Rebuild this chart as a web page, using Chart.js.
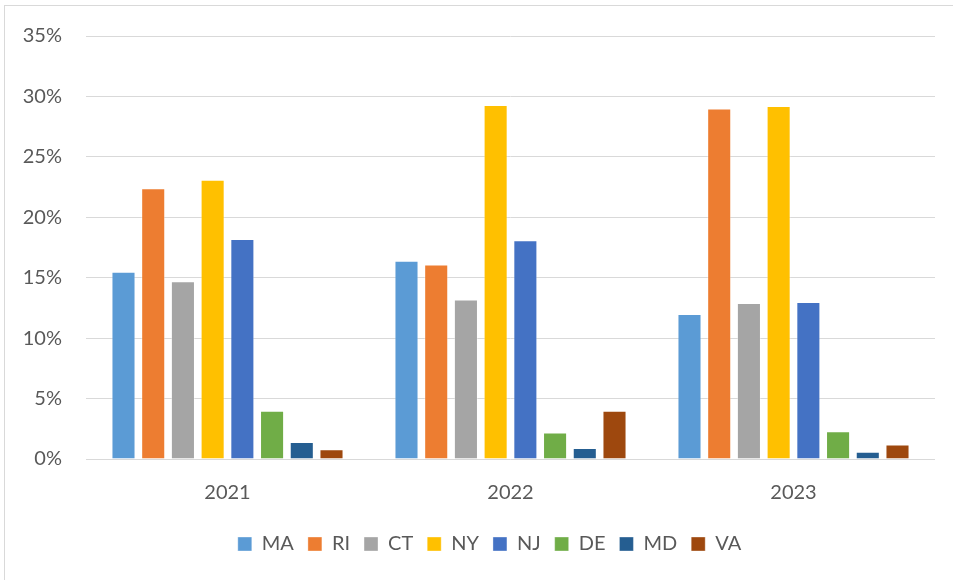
<!DOCTYPE html>
<html>
<head>
<meta charset="utf-8">
<script src="https://cdn.jsdelivr.net/npm/chart.js@4"></script>
<style>
  html, body { margin: 0; padding: 0; background: #fff; }
  #wrap { position: relative; width: 953px; height: 580px; overflow: hidden; }
  #frame { position: absolute; left: 4px; top: 5px; width: 1000px; height: 600px;
           border-left: 1px solid #d9d9d9; border-top: 1px solid #d9d9d9; }
  canvas { position: absolute; left: 0; top: 0; }
</style>
</head>
<body>
<div id="wrap">
  <div id="frame"></div>
  <canvas id="chart" width="953" height="580"></canvas>
</div>
<script>
const years = ['2021', '2022', '2023'];
const states = ['MA', 'RI', 'CT', 'NY', 'NJ', 'DE', 'MD', 'VA'];
const colors = ['#5B9BD5', '#ED7D31', '#A5A5A5', '#FFC000', '#4472C4', '#70AD47', '#255E91', '#9E480E'];

// share (%) per state, one entry per year
const MA = [15.5, 16.4, 12.0];
const RI = [22.4, 16.1, 29.0];
const CT = [14.7, 13.2, 12.9];
const NY = [23.1, 29.3, 29.2];
const NJ = [18.2, 18.1, 13.0];
const DE = [4.0, 2.2, 2.3];
const MD = [1.4, 0.9, 0.6];
const VA = [0.8, 4.0, 1.2];
const values = [MA, RI, CT, NY, NJ, DE, MD, VA];

const yTicks = [0, 5, 10, 15, 20, 25, 30, 35];

const font = { family: 'Lato, "Open Sans", sans-serif', size: 20 };
const textColor = '#595959';

// legend is centred under the whole frame, not the padded box
const shiftLegend = {
  id: 'shiftLegend',
  afterLayout(chart) {
    chart.legend.left += 22;
    chart.legend.right += 22;
  }
};

const ctx = document.getElementById('chart').getContext('2d');

new Chart(ctx, {
  type: 'bar',
  data: {
    labels: years,
    datasets: states.map((s, i) => ({
      label: s,
      data: values[i],
      backgroundColor: colors[i],
      borderColor: 'rgba(255,255,255,0.35)',
      borderWidth: 1,
      categoryPercentage: 0.84,
      barPercentage: 0.81
    }))
  },
  options: {
    responsive: false,
    animation: false,
    layout: { padding: { left: 0, right: 18, top: 25, bottom: 16 } },
    scales: {
      x: {
        grid: { display: false },
        border: { display: false },
        afterFit: (axis) => { axis.height = 61; },
        ticks: { color: textColor, font: font, padding: 14 }
      },
      y: {
        min: 0,
        max: 35,
        afterBuildTicks: (axis) => { axis.ticks = yTicks.map(v => ({ value: v })); },
        afterFit: (axis) => { axis.width = 86; },
        grid: { color: '#d9d9d9', lineWidth: 1, drawTicks: false },
        border: { display: false },
        ticks: { color: textColor, font: font, padding: 24, callback: v => v + '%' }
      }
    },
    plugins: {
      legend: {
        position: 'bottom',
        labels: { color: textColor, font: font, boxWidth: 14, boxHeight: 14, padding: 14 }
      },
      tooltip: { enabled: false }
    }
  },
  plugins: [shiftLegend]
});
</script>
</body>
</html>
